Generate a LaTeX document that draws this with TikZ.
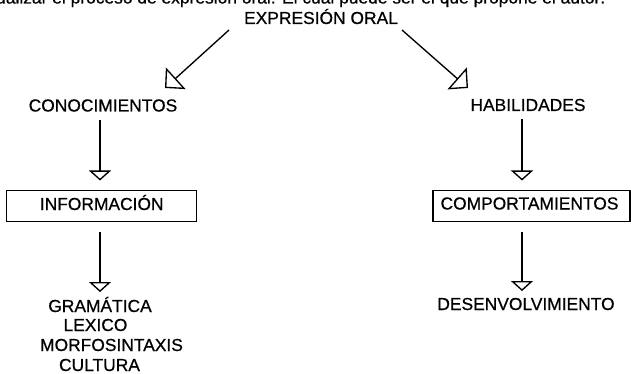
\documentclass[tikz,border=0pt]{standalone}
\usepackage{fontspec}
\setmainfont[FakeBold=0.6]{Liberation Sans}
\usetikzlibrary{arrows.meta}
\tikzset{
  lbl/.style={font=\fontsize{17.4}{20}\selectfont, inner sep=0pt, anchor=base},
  boxed/.style={draw, line width=1.5pt, minimum height=31pt, inner sep=0pt},
  link/.style={line width=1.35pt, -{Triangle[open, width=22pt, length=10pt, line width=1.35pt]}},
  slant/.style={line width=1.35pt, -{Triangle[open, width=29pt, length=14.5pt, line width=1.35pt]}}
}
\begin{document}
\begin{tikzpicture}[x=1pt,y=-1pt]
\useasboundingbox (0,0) rectangle (631,374);

% running text of the page, cut off at the top edge
\node[lbl, anchor=base west] (run) at (-4,3.5) {ualizar el proceso de expresión oral. El cual puede ser el que propone el autor:};

% concept labels
\node[lbl] (eo)  at (321,24)    {EXPRESIÓN ORAL};
\node[lbl] (con) at (103,111.5) {CONOCIMIENTOS};
\node[lbl] (hab) at (528,111)   {HABILIDADES};

% boxed nodes
\node[boxed, minimum width=190pt] (info) at (101.7,206) {};
\node[lbl] (infot) at (101.7,210) {INFORMACIÓN};
\node[boxed, minimum width=197pt] (comp) at (531.5,206) {};
\node[lbl] (compt) at (529.5,209.5) {COMPORTAMIENTOS};

% bottom lists
\node[lbl] (gra) at (100,312)   {GRAMÁTICA};
\node[lbl] (lex) at (95.5,331)  {LEXICO};
\node[lbl] (mor) at (111.5,351) {MORFOSINTAXIS};
\node[lbl] (cul) at (99.5,371)  {CULTURA};
\node[lbl] (des) at (526,310)   {DESENVOLVIMIENTO};

% ends of the slanted connectors
\coordinate (eoL) at (229,30);
\coordinate (eoR) at (402,30);
\coordinate (conT) at (165,88);
\coordinate (habT) at (468,88);

% vertical connector ends
\coordinate (c1) at (100,120);  \coordinate (c2) at (100,180.5);
\coordinate (h1) at (522,119);  \coordinate (h2) at (522,180.5);
\coordinate (i1) at (100,232);  \coordinate (i2) at (100,292);
\coordinate (p1) at (522,232);  \coordinate (p2) at (522,291);

\draw[slant] (eoL) -- (conT);
\draw[slant] (eoR) -- (habT);
\draw[link] (c1) -- (c2);
\draw[link] (h1) -- (h2);
\draw[link] (i1) -- (i2);
\draw[link] (p1) -- (p2);
\end{tikzpicture}
\end{document}
